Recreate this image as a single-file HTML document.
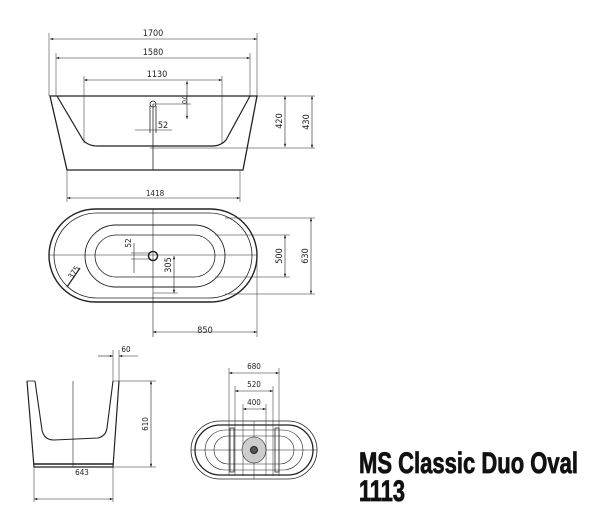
<!DOCTYPE html>
<html><head><meta charset="utf-8"><style>
html,body{margin:0;padding:0;background:#fff;}
svg{display:block}
text{font-family:"DejaVu Sans Condensed","Liberation Sans Narrow","Liberation Sans",sans-serif;fill:#222}
</style></head><body>
<svg width="600" height="506" viewBox="0 0 600 506" xmlns="http://www.w3.org/2000/svg">
<defs>
<marker id="a" viewBox="0 0 8 6" refX="8" refY="3" markerWidth="6" markerHeight="4" orient="auto-start-reverse"><path d="M0,0 L8,3 L0,6z" fill="#222"/></marker>
</defs>
<g stroke="#222" fill="none" stroke-width="0.8">
<path d="M50,96 L67,170 L243,170 L257,96 Z" stroke-width="1.3"/>
<path d="M57,96 L83,140 Q88,146 98,146 L212,146 Q221,146 226,140 L250,96" stroke-width="1.2"/>
<line x1="50" y1="96" x2="315" y2="96" stroke-width="0.6"/>
<line x1="153" y1="104" x2="153" y2="170"/>
<line x1="150" y1="106" x2="150" y2="133"/><line x1="156" y1="106" x2="156" y2="133"/>
<circle cx="153" cy="104" r="3"/>
<line x1="153" y1="104" x2="191" y2="104" stroke-width="0.6"/>
<line x1="187" y1="81" x2="187" y2="119" marker-start="url(#a)" marker-end="url(#a)" stroke-width="0.6"/>
<line x1="135" y1="130" x2="172" y2="130" stroke-width="0.6"/>
<line x1="49" y1="33" x2="49" y2="96" stroke-width="0.5"/><line x1="257" y1="33" x2="257" y2="96" stroke-width="0.5"/>
<line x1="50" y1="39" x2="257" y2="39" marker-start="url(#a)" marker-end="url(#a)" stroke-width="0.6"/>
<line x1="56" y1="53" x2="56" y2="96" stroke-width="0.5"/><line x1="250" y1="53" x2="250" y2="96" stroke-width="0.5"/>
<line x1="56" y1="58" x2="250" y2="58" marker-start="url(#a)" marker-end="url(#a)" stroke-width="0.6"/>
<line x1="84" y1="76" x2="84" y2="143" stroke-width="0.5"/><line x1="222" y1="76" x2="222" y2="143" stroke-width="0.5"/>
<line x1="84" y1="80" x2="222" y2="80" marker-start="url(#a)" marker-end="url(#a)" stroke-width="0.6"/>
<line x1="67" y1="170" x2="67" y2="202" stroke-width="0.5"/><line x1="240" y1="170" x2="240" y2="202" stroke-width="0.5"/>
<line x1="67" y1="198" x2="240" y2="198" marker-start="url(#a)" marker-end="url(#a)" stroke-width="0.6"/>
<line x1="150" y1="148" x2="315" y2="148" stroke-width="0.5"/>
<line x1="285" y1="96" x2="285" y2="147" marker-start="url(#a)" marker-end="url(#a)" stroke-width="0.6"/>
<line x1="312" y1="96" x2="312" y2="148" marker-start="url(#a)" marker-end="url(#a)" stroke-width="0.6"/>
<rect x="49" y="209" width="208" height="93" rx="46.5" stroke-width="1.4"/>
<rect x="54" y="213" width="198" height="85" rx="42.5" stroke-width="0.8"/>
<rect x="85" y="225" width="140" height="62" rx="31" stroke-width="0.9"/>
<rect x="95" y="235" width="120" height="42" rx="21" stroke-width="0.8"/>
<line x1="49" y1="255" x2="257" y2="255" stroke-width="0.6"/>
<line x1="153" y1="209" x2="153" y2="337" stroke-width="0.6"/>
<circle cx="153" cy="256" r="4.5" stroke-width="1.5"/>
<line x1="225" y1="218" x2="315" y2="218" stroke-width="0.5"/><line x1="225" y1="294" x2="315" y2="294" stroke-width="0.5"/>
<line x1="215" y1="235" x2="290" y2="235" stroke-width="0.5"/><line x1="215" y1="277" x2="290" y2="277" stroke-width="0.5"/>
<line x1="285" y1="235" x2="285" y2="277" marker-start="url(#a)" marker-end="url(#a)" stroke-width="0.6"/>
<line x1="311" y1="218" x2="311" y2="294" marker-start="url(#a)" marker-end="url(#a)" stroke-width="0.6"/>
<line x1="153" y1="293" x2="178" y2="293" stroke-width="0.5"/>
<line x1="174" y1="256" x2="174" y2="293" marker-start="url(#a)" marker-end="url(#a)" stroke-width="0.6"/>
<line x1="134" y1="243" x2="134" y2="273" stroke-width="0.6"/><line x1="131" y1="253" x2="150" y2="253" stroke-width="0.5"/><line x1="131" y1="259" x2="150" y2="259" stroke-width="0.5"/>
<line x1="67" y1="287" x2="80" y2="268" stroke-width="1.2"/>
<line x1="257" y1="255" x2="257" y2="337" stroke-width="0.5"/>
<line x1="153" y1="332" x2="257" y2="332" marker-start="url(#a)" marker-end="url(#a)" stroke-width="0.6"/>
<path d="M27,381 L34,467 L113,467 L119,381" stroke-width="1.2"/>
<line x1="34" y1="464" x2="113" y2="464" stroke-width="1.6"/>
<path d="M35,381 L42,430 Q44,440 54,440 L98,438 Q106,436 107,428 L113,381" stroke-width="1.1"/>
<line x1="27" y1="381" x2="35" y2="381"/><line x1="113" y1="381" x2="156" y2="381" stroke-width="0.5"/>
<line x1="73" y1="381" x2="73" y2="467" stroke-width="0.6"/>
<line x1="113" y1="467" x2="156" y2="467" stroke-width="0.5"/>
<line x1="151" y1="381" x2="151" y2="467" marker-start="url(#a)" marker-end="url(#a)" stroke-width="0.6"/>
<line x1="113" y1="350" x2="113" y2="381" stroke-width="0.5"/><line x1="119" y1="350" x2="119" y2="381" stroke-width="0.5"/>
<line x1="98" y1="356" x2="113" y2="356" marker-end="url(#a)" stroke-width="0.6"/><line x1="138" y1="356" x2="119" y2="356" marker-end="url(#a)" stroke-width="0.6"/>
<line x1="34" y1="467" x2="34" y2="502" stroke-width="0.5"/><line x1="113" y1="467" x2="113" y2="502" stroke-width="0.5"/>
<line x1="34" y1="499" x2="113" y2="499" marker-start="url(#a)" marker-end="url(#a)" stroke-width="0.6"/>
<rect x="191" y="421" width="126" height="58" rx="29" stroke-width="0.8"/>
<rect x="195" y="425" width="118" height="50" rx="25" stroke-width="1.3"/>
<rect x="205" y="430" width="98" height="40" rx="20" stroke-width="0.6"/>
<rect x="214" y="436" width="80" height="28" rx="14" stroke-width="0.6"/>
<rect x="230" y="428" width="4" height="44" stroke-width="0.8"/>
<rect x="275" y="428" width="4" height="44" stroke-width="0.8"/>
<line x1="191" y1="450" x2="317" y2="450" stroke-width="0.5"/>
<line x1="254" y1="421" x2="254" y2="479" stroke-width="0.5"/>
<line x1="229" y1="368" x2="229" y2="476" stroke-width="0.5"/><line x1="279" y1="368" x2="279" y2="476" stroke-width="0.5"/>
<line x1="235" y1="386" x2="235" y2="476" stroke-width="0.5"/><line x1="273" y1="386" x2="273" y2="476" stroke-width="0.5"/>
<line x1="243" y1="404" x2="243" y2="476" stroke-width="0.5"/><line x1="266" y1="404" x2="266" y2="476" stroke-width="0.5"/>
<line x1="229" y1="373" x2="279" y2="373" marker-start="url(#a)" marker-end="url(#a)" stroke-width="0.6"/>
<line x1="235" y1="391" x2="273" y2="391" marker-start="url(#a)" marker-end="url(#a)" stroke-width="0.6"/>
<line x1="243" y1="409" x2="266" y2="409" marker-start="url(#a)" marker-end="url(#a)" stroke-width="0.6"/>
<ellipse cx="254" cy="450" rx="12" ry="13" fill="#ccc" stroke-width="0.6"/>
<circle cx="254" cy="450" r="3.5" fill="#555" stroke-width="1"/>
</g>
<g font-size="9" text-anchor="middle">
<text x="153" y="36">1700</text>
<text x="153" y="55">1580</text>
<text x="157" y="77">1130</text>
<text x="163" y="128">52</text>
<text x="155" y="196" font-size="8">1418</text>
<text x="205" y="333">850</text>
<text x="82" y="475" font-size="8">643</text>
<text x="126" y="352" font-size="8">60</text>
<text x="254" y="369" font-size="8">680</text>
<text x="254" y="387" font-size="8">520</text>
<text x="254" y="405" font-size="8">400</text>
<text transform="translate(182,100) rotate(90)" font-size="7">70</text>
<text transform="translate(282,121) rotate(-90)">420</text>
<text transform="translate(309,122) rotate(-90)">430</text>
<text transform="translate(282,256) rotate(-90)">500</text>
<text transform="translate(308,256) rotate(-90)">630</text>
<text transform="translate(171,265) rotate(-90)">305</text>
<text transform="translate(131,243) rotate(-90)" font-size="8">52</text>
<text transform="translate(76,274) rotate(-55)" font-size="8">375</text>
<text transform="translate(148,424) rotate(-90)" font-size="8">610</text>
</g>
<g font-weight="bold" font-size="30">
<text x="359" y="473" textLength="219" lengthAdjust="spacingAndGlyphs" style="fill:#111;stroke:#111;stroke-width:0.8;font-family:'Liberation Sans Narrow','Liberation Sans',sans-serif">MS Classic Duo Oval</text>
<text x="359" y="501" textLength="46" lengthAdjust="spacingAndGlyphs" style="fill:#111;stroke:#111;stroke-width:0.8;font-family:'Liberation Sans Narrow','Liberation Sans',sans-serif">1113</text>
</g>
</svg>
</body></html>
